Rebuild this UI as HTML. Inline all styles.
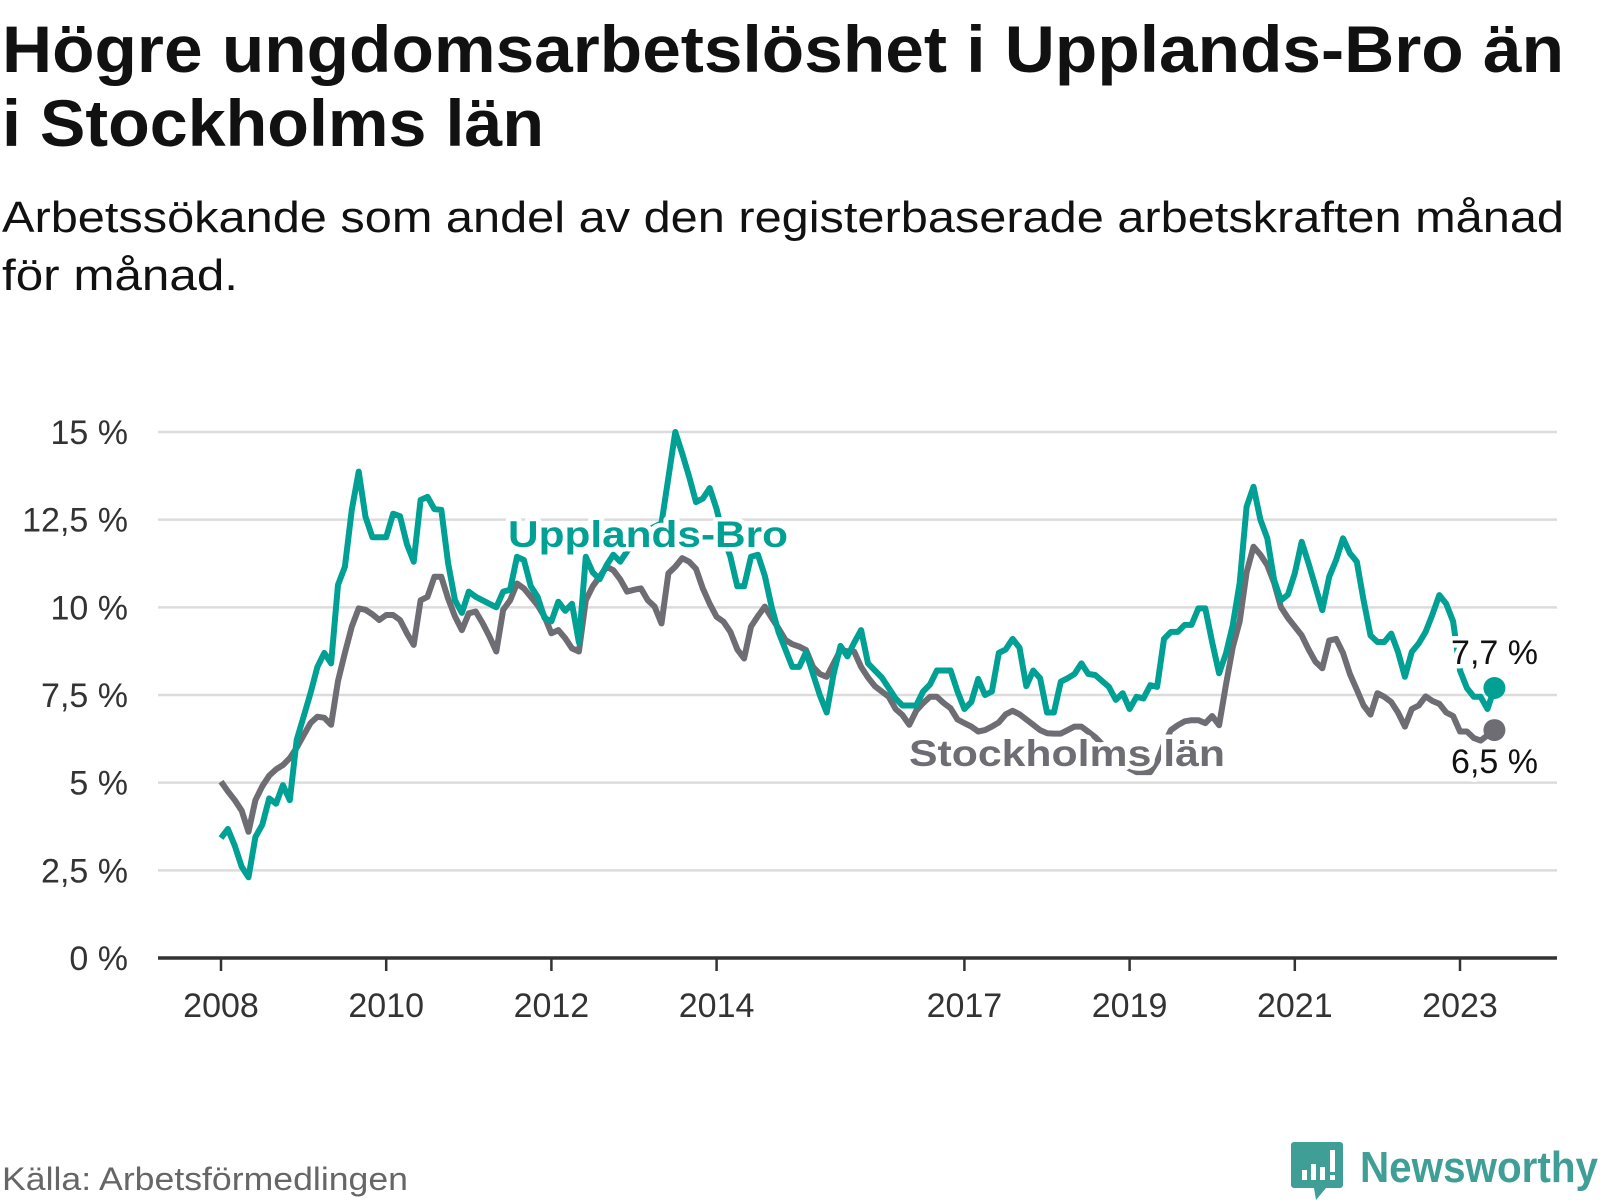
<!DOCTYPE html>
<html><head><meta charset="utf-8">
<style>
html,body{margin:0;padding:0;background:#fff;}
svg{display:block;font-family:"Liberation Sans",sans-serif;}
</style></head>
<body>
<svg id="chart" width="1600" height="1200" viewBox="0 0 1600 1200" xmlns="http://www.w3.org/2000/svg">
<text x="2" y="72" font-size="66" font-weight="bold" fill="#111" textLength="1562" lengthAdjust="spacingAndGlyphs">Högre ungdomsarbetslöshet i Upplands-Bro än</text>
<text x="2" y="146" font-size="66" font-weight="bold" fill="#111" textLength="542" lengthAdjust="spacingAndGlyphs">i Stockholms län</text>
<text x="2" y="232" font-size="44" fill="#111" textLength="1562" lengthAdjust="spacingAndGlyphs">Arbetssökande som andel av den registerbaserade arbetskraften månad</text>
<text x="2" y="290" font-size="44" fill="#111" textLength="236" lengthAdjust="spacingAndGlyphs">för månad.</text>
<g id="grid"></g>
<g id="axes"></g>
<g id="series"></g>
<g id="labels"></g>
<text x="2" y="1190" font-size="32" fill="#666" textLength="406" lengthAdjust="spacingAndGlyphs">Källa: Arbetsförmedlingen</text>
<g>
<path d="M1294 1142 h46 a3 3 0 0 1 3 3 v40 a3 3 0 0 1 -3 3 h-14 l-10 12 l-2 -12 h-20 a3 3 0 0 1 -3 -3 v-40 a3 3 0 0 1 3 -3z" fill="#3f9e96"/>
<rect x="1302" y="1170" width="5" height="10" fill="#fff"/>
<rect x="1311" y="1164" width="5" height="16" fill="#fff"/>
<rect x="1320" y="1167" width="5" height="13" fill="#fff"/>
<rect x="1330" y="1150" width="5" height="22" fill="#fff"/>
<rect x="1330" y="1175" width="5" height="5" fill="#fff"/>
<text x="1360" y="1182" font-size="44" font-weight="bold" fill="#3f9e96" textLength="238" lengthAdjust="spacingAndGlyphs">Newsworthy</text>
</g>
</svg>
<script>
const yTicks = [0, 2.5, 5, 7.5, 10, 12.5, 15];
const yTickLabels = ["0 %", "2,5 %", "5 %", "7,5 %", "10 %", "12,5 %", "15 %"];
const xTickYears = [2008, 2010, 2012, 2014, 2017, 2019, 2021, 2023];
const startYear = 2008;
const upplandsBro = [3.42,3.68,3.2,2.6,2.3,3.45,3.8,4.55,4.4,4.93,4.5,6.22,6.88,7.55,8.3,8.7,8.4,10.64,11.16,12.78,13.87,12.58,12.0,12.0,12.0,12.67,12.6,11.8,11.3,13.06,13.15,12.8,12.78,11.26,10.2,9.84,10.45,10.3,10.2,10.1,10.0,10.45,10.5,11.44,11.35,10.6,10.3,9.7,9.6,10.16,9.9,10.1,9.0,11.44,11.0,10.8,11.2,11.5,11.3,11.6,11.8,12.0,12.2,12.3,12.4,13.7,15.0,14.39,13.73,13.0,13.1,13.4,12.8,12.0,11.44,10.6,10.6,11.44,11.5,10.9,10.0,9.3,8.8,8.3,8.3,8.72,8.1,7.5,7.0,8.1,8.9,8.6,9.0,9.35,8.4,8.2,8.0,7.7,7.4,7.2,7.2,7.2,7.6,7.8,8.2,8.2,8.2,7.6,7.1,7.3,7.96,7.5,7.6,8.7,8.8,9.1,8.85,7.75,8.2,7.98,7.0,7.0,7.88,7.98,8.1,8.4,8.1,8.07,7.9,7.73,7.36,7.55,7.1,7.45,7.4,7.78,7.73,9.1,9.3,9.3,9.5,9.5,9.97,9.97,9.0,8.12,8.69,9.5,10.7,12.87,13.44,12.5,11.97,10.78,10.2,10.36,10.97,11.87,11.25,10.59,9.92,10.87,11.35,11.97,11.54,11.3,10.2,9.2,9.01,9.01,9.25,8.73,8.02,8.73,8.97,9.3,9.8,10.35,10.1,9.6,8.2,7.7,7.45,7.45,7.1,7.7];
const stockholm = [5.03,4.75,4.5,4.2,3.6,4.5,4.9,5.2,5.38,5.5,5.7,6.0,6.35,6.7,6.88,6.85,6.65,7.9,8.7,9.45,9.97,9.93,9.8,9.64,9.78,9.78,9.64,9.26,8.93,10.2,10.3,10.87,10.87,10.25,9.74,9.35,9.83,9.88,9.55,9.17,8.74,9.93,10.2,10.68,10.54,10.3,10.06,9.74,9.26,9.35,9.12,8.83,8.74,10.2,10.6,10.87,11.16,11.06,10.8,10.45,10.5,10.54,10.2,10.02,9.54,10.97,11.16,11.4,11.3,11.1,10.54,10.1,9.73,9.59,9.3,8.8,8.54,9.45,9.75,10.02,9.7,9.4,9.07,8.95,8.88,8.78,8.3,8.1,8.02,8.4,8.78,8.75,8.73,8.3,8.0,7.75,7.6,7.45,7.1,6.93,6.65,7.05,7.27,7.45,7.45,7.27,7.12,6.8,6.7,6.6,6.46,6.5,6.6,6.72,6.95,7.05,6.95,6.8,6.65,6.5,6.41,6.4,6.4,6.5,6.6,6.6,6.45,6.3,6.1,5.9,5.7,5.5,5.4,5.3,5.3,5.3,5.6,6.1,6.5,6.64,6.75,6.78,6.78,6.7,6.9,6.64,7.8,8.87,9.6,11.0,11.73,11.5,11.2,10.7,10.0,9.7,9.45,9.2,8.8,8.45,8.26,9.05,9.1,8.7,8.1,7.65,7.2,6.94,7.55,7.45,7.3,7.0,6.6,7.1,7.2,7.46,7.33,7.25,7.0,6.9,6.46,6.46,6.27,6.2,6.35,6.5];
const endLabels = ["7,7 %", "6,5 %"];

const NS = "http://www.w3.org/2000/svg";
const X0 = 221, PX_PER_MONTH = 82.6/12;
const Y0 = 958, PX_PER_PCT = 526/15;
const LEFT = 158, RIGHT = 1557;
function xScale(m){ return X0 + m*PX_PER_MONTH; }
function yScale(v){ return Y0 - v*PX_PER_PCT; }
function mk(tag, attrs, parent){ const e=document.createElementNS(NS,tag); for(const k in attrs) e.setAttribute(k,attrs[k]); parent.appendChild(e); return e; }

const grid = document.getElementById('grid');
const axes = document.getElementById('axes');
yTicks.forEach((t,i)=>{
  if(t>0){
    const g = mk('line',{x1:LEFT,x2:RIGHT,y1:yScale(t),y2:yScale(t),stroke:'#dcdcdc','stroke-width':2.5},grid);
    
    
  }
  const l = mk('text',{x:128,y:yScale(t)+12,'text-anchor':'end','font-size':34,fill:'#333'},axes);
  l.textContent = yTickLabels[i];
  
  
});
const ax = mk('line',{x1:LEFT,x2:RIGHT,y1:Y0,y2:Y0,stroke:'#333','stroke-width':3.5},axes);


xTickYears.forEach(yr=>{
  const x = xScale((yr-startYear)*12);
  const tk = mk('line',{x1:x,x2:x,y1:Y0,y2:Y0+13,stroke:'#333','stroke-width':2.5},axes);
  
  
  const t = mk('text',{x:x,y:1017,'text-anchor':'middle','font-size':34,fill:'#333'},axes);
  t.textContent = String(yr);
  
  
});

const series = document.getElementById('series');
function pathFor(arr){ return arr.map((v,i)=>(i?'L':'M')+xScale(i).toFixed(1)+' '+yScale(v).toFixed(1)).join(' '); }
const sp = mk('path',{d:pathFor(stockholm),fill:'none',stroke:'#6e6d73','stroke-width':6,'stroke-linejoin':'round'},series);


const up = mk('path',{d:pathFor(upplandsBro),fill:'none',stroke:'#00a094','stroke-width':6,'stroke-linejoin':'round'},series);



const labels = document.getElementById('labels');
function halo(attrs, txt){
  const t = mk('text',Object.assign({stroke:'#fff','stroke-width':9,'paint-order':'stroke','stroke-linejoin':'round'},attrs),labels);
  t.textContent = txt;
  return t;
}
const ubL = halo({x:508,y:547,'font-size':37,'font-weight':'bold',fill:'#00a094',textLength:280,lengthAdjust:'spacingAndGlyphs'},'Upplands-Bro');


const stL = halo({x:909,y:766,'font-size':37,'font-weight':'bold',fill:'#6e6d73',textLength:316,lengthAdjust:'spacingAndGlyphs'},'Stockholms län');



const lastI = upplandsBro.length-1;
const d1 = mk('circle',{cx:xScale(lastI),cy:yScale(upplandsBro[lastI]),r:11,fill:'#00a094'},labels);


const lastS = stockholm.length-1;
const d2 = mk('circle',{cx:xScale(lastS),cy:yScale(stockholm[lastS]),r:11,fill:'#6e6d73'},labels);


const e1 = halo({x:1538,y:yScale(upplandsBro[lastI])-24,'text-anchor':'end','font-size':34,fill:'#111'},endLabels[0]);


const e2 = halo({x:1538,y:yScale(stockholm[lastS])+43,'text-anchor':'end','font-size':34,fill:'#111'},endLabels[1]);


</script>
</body></html>
